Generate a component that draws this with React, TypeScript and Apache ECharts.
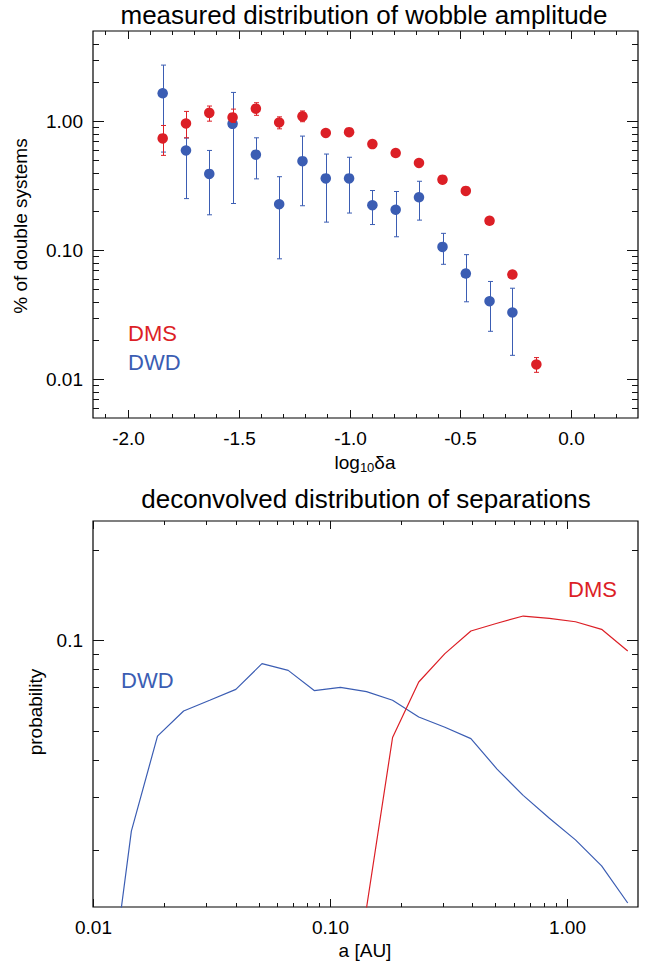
import React, { useEffect, useRef } from 'react';
import * as echarts from 'echarts';

const RED = '#dc1f26';
const BLUE = '#3b5db3';
const FONT = '"Liberation Sans", Arial, Helvetica, sans-serif';

// ---------- top panel: measured distribution of wobble amplitude ----------
const dmsLogDa = [-1.842, -1.737, -1.632, -1.527, -1.422, -1.317, -1.212, -1.107, -1.002, -0.897, -0.792, -0.687, -0.581, -0.476, -0.369, -0.266, -0.158];
const dmsPct = [0.735, 0.96, 1.16, 1.07, 1.25, 0.977, 1.09, 0.81, 0.822, 0.664, 0.566, 0.474, 0.352, 0.288, 0.169, 0.0647, 0.013];
const dmsLow = [0.543, 0.743, 1.0, 0.98, 1.11, 0.872, 0.99, 0.77, 0.775, 0.64, 0.55, 0.46, 0.34, 0.28, 0.165, 0.063, 0.0113];
const dmsHigh = [0.926, 1.19, 1.31, 1.24, 1.39, 1.08, 1.2, 0.85, 0.87, 0.69, 0.585, 0.49, 0.365, 0.298, 0.174, 0.0665, 0.0147];

const dwdLogDa = [-1.842, -1.737, -1.632, -1.527, -1.422, -1.317, -1.212, -1.107, -1.002, -0.897, -0.792, -0.687, -0.581, -0.476, -0.369, -0.266];
const dwdPct = [1.645, 0.593, 0.39, 0.953, 0.55, 0.227, 0.49, 0.36, 0.36, 0.223, 0.206, 0.257, 0.106, 0.0659, 0.0402, 0.0329];
const dwdLow = [0.576, 0.251, 0.188, 0.23, 0.357, 0.0857, 0.221, 0.165, 0.194, 0.158, 0.127, 0.171, 0.0777, 0.0398, 0.0235, 0.0153];
const dwdHigh = [2.72, 0.74, 0.593, 1.67, 0.743, 0.371, 0.766, 0.556, 0.525, 0.29, 0.285, 0.342, 0.135, 0.0923, 0.0572, 0.0507];

// ---------- bottom panel: deconvolved distribution of separations ----------
const dwdSepAU = [0.01127, 0.01452, 0.01872, 0.02413, 0.0311, 0.0401, 0.0517, 0.0667, 0.0859, 0.1108, 0.1428, 0.184, 0.2373, 0.306, 0.394, 0.508, 0.655, 0.845, 1.089, 1.404, 1.81];
const dwdProb = [0.005, 0.0231, 0.0479, 0.0581, 0.0631, 0.0686, 0.0836, 0.0794, 0.068, 0.0697, 0.0674, 0.0631, 0.0555, 0.0513, 0.047, 0.0372, 0.0304, 0.0255, 0.0216, 0.0177, 0.0133];
const dmsSepAU = [0.1428, 0.184, 0.2373, 0.306, 0.394, 0.508, 0.655, 0.845, 1.089, 1.404, 1.81];
const dmsProb = [0.0128, 0.0474, 0.0726, 0.0903, 0.1074, 0.114, 0.1205, 0.1184, 0.1153, 0.1088, 0.0921];

// ---------- ticks ----------
const topXMajor = [-2.0, -1.5, -1.0, -0.5, 0.0];
const topXMajorLabels = ['-2.0', '-1.5', '-1.0', '-0.5', '0.0'];
const topXMinor = [-2.1, -1.9, -1.8, -1.7, -1.6, -1.4, -1.3, -1.2, -1.1, -0.9, -0.8, -0.7, -0.6, -0.4, -0.3, -0.2, -0.1, 0.1, 0.2];
const topYMajor = [0.01, 0.1, 1];
const topYMajorLabels = ['0.01', '0.10', '1.00'];
const topYMinor = [0.006, 0.007, 0.008, 0.009, 0.02, 0.03, 0.04, 0.05, 0.06, 0.07, 0.08, 0.09, 0.2, 0.3, 0.4, 0.5, 0.6, 0.7, 0.8, 0.9, 2, 3, 4];

const botXMajor = [0.01, 0.1, 1];
const botXMajorLabels = ['0.01', '0.10', '1.00'];
const botXMinor = [0.02, 0.03, 0.04, 0.05, 0.06, 0.07, 0.08, 0.09, 0.2, 0.3, 0.4, 0.5, 0.6, 0.7, 0.8, 0.9];
const botYMajor = [0.1];
const botYMajorLabels = ['0.1'];
const botYMinor = [0.02, 0.03, 0.04, 0.05, 0.06, 0.07, 0.08, 0.09, 0.2];

const TICK_FS = 19;
const X_MAJ = 8, X_MIN = 4, Y_MAJ = 11, Y_MIN = 6;

function xTicks(g: number, values: number[], labels: string[] | null, major: boolean, yDummy: number) {
  return {
    type: 'custom', xAxisIndex: g, yAxisIndex: g, clip: false, silent: true, z: 10,
    data: values.map((v) => [v, yDummy]),
    encode: { x: 0, y: 1 },
    renderItem: (params: any, api: any) => {
      const cs = params.coordSys;
      const px = Math.round(api.coord([api.value(0), yDummy])[0]) + 0.5;
      const len = major ? X_MAJ : X_MIN;
      const bot = cs.y + cs.height;
      const st = { stroke: '#111', lineWidth: 1 };
      const children: any[] = [
        { type: 'line', shape: { x1: px, y1: bot, x2: px, y2: bot - len }, style: st },
        { type: 'line', shape: { x1: px, y1: cs.y, x2: px, y2: cs.y + len }, style: st },
      ];
      if (labels) {
        children.push({
          type: 'text',
          style: { text: labels[params.dataIndex], x: px, y: bot + 20, align: 'center', verticalAlign: 'middle', fontSize: TICK_FS, fontFamily: FONT, fill: '#000' },
        });
      }
      return { type: 'group', children };
    },
  };
}

function yTicks(g: number, values: number[], labels: string[] | null, major: boolean, xDummy: number) {
  return {
    type: 'custom', xAxisIndex: g, yAxisIndex: g, clip: false, silent: true, z: 10,
    data: values.map((v) => [xDummy, v]),
    encode: { x: 0, y: 1 },
    renderItem: (params: any, api: any) => {
      const cs = params.coordSys;
      const py = Math.round(api.coord([xDummy, api.value(1)])[1]) + 0.5;
      const len = major ? Y_MAJ : Y_MIN;
      const right = cs.x + cs.width;
      const st = { stroke: '#111', lineWidth: 1 };
      const children: any[] = [
        { type: 'line', shape: { x1: cs.x, y1: py, x2: cs.x + len, y2: py }, style: st },
        { type: 'line', shape: { x1: right, y1: py, x2: right - len, y2: py }, style: st },
      ];
      if (labels) {
        children.push({
          type: 'text',
          style: { text: labels[params.dataIndex], x: cs.x - 10, y: py, align: 'right', verticalAlign: 'middle', fontSize: TICK_FS, fontFamily: FONT, fill: '#000' },
        });
      }
      return { type: 'group', children };
    },
  };
}

function errBars(xs: number[], lo: number[], hi: number[], color: string, z: number) {
  return {
    type: 'custom', xAxisIndex: 0, yAxisIndex: 0, silent: true, z,
    data: xs.map((x, i) => [x, lo[i], hi[i]]),
    encode: { x: 0, y: [1, 2] },
    renderItem: (params: any, api: any) => {
      const x = api.value(0);
      const a = api.coord([x, api.value(1)]);
      const b = api.coord([x, api.value(2)]);
      const cx = Math.round(a[0]) + 0.5;
      const hw = 2.5;
      const st = { stroke: color, lineWidth: 1 };
      return {
        type: 'group',
        children: [
          { type: 'line', shape: { x1: cx, y1: a[1], x2: cx, y2: b[1] }, style: st },
          { type: 'line', shape: { x1: cx - hw, y1: a[1], x2: cx + hw, y2: a[1] }, style: st },
          { type: 'line', shape: { x1: cx - hw, y1: b[1], x2: cx + hw, y2: b[1] }, style: st },
        ],
      };
    },
  };
}

function txt(text: string, x: number, y: number, fontSize: number, fill: string, align = 'center', rotation = 0, rich?: any) {
  return {
    type: 'text', x, y, rotation, silent: true, z: 20,
    style: { text, x: 0, y: 0, fontSize, fontFamily: FONT, fill, align, textAlign: align, verticalAlign: 'middle', textVerticalAlign: 'middle', rich },
  };
}

const hidden = { axisLine: { show: false }, axisTick: { show: false }, axisLabel: { show: false }, splitLine: { show: false } };

export default function App() {
  const ref = useRef<HTMLDivElement>(null);
  useEffect(() => {
    if (!ref.current) return;
    const chart = echarts.init(ref.current, null, { renderer: 'svg' });
    const option: any = {
      animation: false,
      backgroundColor: '#fff',
      grid: [
        { left: 93, top: 31, width: 545, height: 387, show: true, borderColor: '#000', borderWidth: 1.2, backgroundColor: 'transparent' },
        { left: 93, top: 521, width: 545, height: 386, show: true, borderColor: '#000', borderWidth: 1.2, backgroundColor: 'transparent' },
      ],
      xAxis: [
        { gridIndex: 0, type: 'value', min: -2.156, max: 0.3, ...hidden },
        { gridIndex: 1, type: 'log', logBase: 10, min: 0.01, max: 2.0, ...hidden },
      ],
      yAxis: [
        { gridIndex: 0, type: 'log', logBase: 10, min: 0.005, max: 5, ...hidden },
        { gridIndex: 1, type: 'log', logBase: 10, min: 0.0129, max: 0.25, ...hidden },
      ],
      series: [
        errBars(dwdLogDa, dwdLow, dwdHigh, BLUE, 2),
        { type: 'scatter', xAxisIndex: 0, yAxisIndex: 0, z: 3, symbol: 'circle', symbolSize: 10.5, itemStyle: { color: BLUE, opacity: 1 }, data: dwdLogDa.map((x, i) => [x, dwdPct[i]]) },
        errBars(dmsLogDa, dmsLow, dmsHigh, RED, 4),
        { type: 'scatter', xAxisIndex: 0, yAxisIndex: 0, z: 5, symbol: 'circle', symbolSize: 10.5, itemStyle: { color: RED, opacity: 1 }, data: dmsLogDa.map((x, i) => [x, dmsPct[i]]) },
        { type: 'line', xAxisIndex: 1, yAxisIndex: 1, z: 3, showSymbol: false, symbol: 'none', lineStyle: { color: BLUE, width: 1.2 }, data: dwdSepAU.map((x, i) => [x, dwdProb[i]]) },
        { type: 'line', xAxisIndex: 1, yAxisIndex: 1, z: 3, showSymbol: false, symbol: 'none', lineStyle: { color: RED, width: 1.2 }, data: dmsSepAU.map((x, i) => [x, dmsProb[i]]) },
        xTicks(0, topXMajor, topXMajorLabels, true, 0.1),
        xTicks(0, topXMinor, null, false, 0.1),
        yTicks(0, topYMajor, topYMajorLabels, true, -1),
        yTicks(0, topYMinor, null, false, -1),
        xTicks(1, botXMajor, botXMajorLabels, true, 0.1),
        xTicks(1, botXMinor, null, false, 0.1),
        yTicks(1, botYMajor, botYMajorLabels, true, 0.1),
        yTicks(1, botYMinor, null, false, 0.1),
      ],
      graphic: [
        txt('measured distribution of wobble amplitude', 364, 14.5, 26, '#000'),
        txt('deconvolved distribution of separations', 366, 499, 26, '#000'),
        txt('{a|log}{s|10}{a|δa}', 365, 462, 19, '#000', 'center', 0, {
          a: { fontSize: 19, fontFamily: FONT, lineHeight: 24, verticalAlign: 'middle', fill: '#000' },
          s: { fontSize: 13, fontFamily: FONT, lineHeight: 24, verticalAlign: 'bottom', fill: '#000' },
        }),
        txt('a [AU]', 365, 950, 19, '#000'),
        txt('% of double systems', 20, 226, 19, '#000', 'center', Math.PI / 2),
        txt('probability', 35, 712, 19, '#000', 'center', Math.PI / 2),
        txt('DMS', 128, 333, 22, RED, 'left'),
        txt('DWD', 128, 362, 22, BLUE, 'left'),
        txt('DWD', 121, 680, 22, BLUE, 'left'),
        txt('DMS', 568, 589, 22, RED, 'left'),
      ],
    };
    chart.setOption(option);
    return () => chart.dispose();
  }, []);
  return <div ref={ref} style={{ position: 'absolute', left: 0, top: 0, width: 656, height: 965 }} />;
}
